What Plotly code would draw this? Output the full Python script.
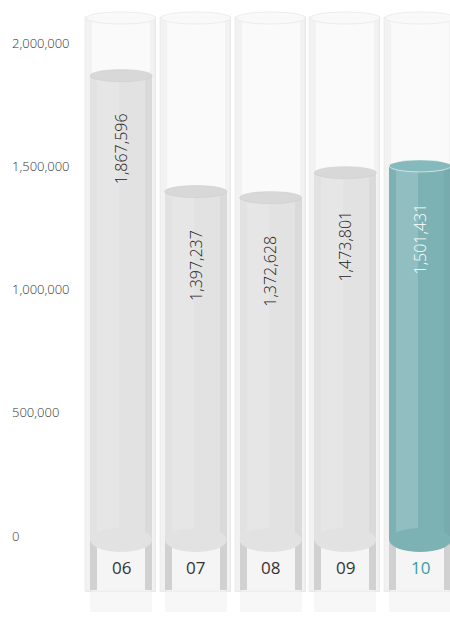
import plotly.graph_objects as go

# ---- data ----
years = ["06", "07", "08", "09", "10"]
values = [1867596, 1397237, 1372628, 1473801, 1501431]
tick_vals = [0, 500000, 1000000, 1500000, 2000000]
tick_text = ["0", "500,000", "1,000,000", "1,500,000", "2,000,000"]

# ---- geometry / style ----
W, H = 450, 626
Y_TOP, Y_BOT = 2174400, -365100
UPP = (Y_TOP - Y_BOT) / H          # data units per pixel
X_RANGE = [-1.62, 4.40]
XPP = (X_RANGE[1] - X_RANGE[0]) / W


def py(p):
    """pixel row -> data y"""
    return Y_TOP - p * UPP


n = len(years)
xs = list(range(n))
hl = n - 1
GRAY = "#e2e2e2"
GRAY_TOP = "#d8d8d8"
TEAL = "#7db2b5"
TEAL_TOP = "#86b9bc"
colors = [TEAL if i == hl else GRAY for i in xs]
top_colors = [TEAL_TOP if i == hl else GRAY_TOP for i in xs]

BAR_W = 62 * XPP
TUBE_W = 70 * XPP
ELL = 6 * UPP

tube_base = py(592)
tube_top = py(18)
cap_base = py(590)
bar_base = py(540)
refl_base = py(612)

fig = go.Figure()
skip = dict(hoverinfo="skip", showlegend=False)

# reflections below the tubes
fig.add_bar(x=xs, y=[cap_base - refl_base] * n, base=[refl_base] * n, width=BAR_W,
            marker=dict(color="rgba(228,228,228,0.30)", line=dict(width=0)), **skip)
# glass tubes
fig.add_bar(x=xs, y=[tube_top - tube_base] * n, base=[tube_base] * n, width=TUBE_W,
            marker=dict(color="rgba(246,246,246,0.55)",
                        line=dict(color="rgba(236,236,236,0.9)", width=1.5)), **skip)
# glass tube side shading
for off in (-TUBE_W / 2, TUBE_W / 2 - 6 * XPP):
    fig.add_bar(x=xs, y=[tube_top - tube_base] * n, base=[tube_base] * n,
                width=6 * XPP, offset=off,
                marker=dict(color="rgba(225,225,225,0.35)", line=dict(width=0)), **skip)
# bottom caps
fig.add_bar(x=xs, y=[bar_base - cap_base] * n, base=[cap_base] * n, width=BAR_W,
            marker=dict(color="#f5f5f5", line=dict(width=0)), **skip)
for off, a in ((-BAR_W / 2, 0.38), (BAR_W / 2 - 7 * XPP, 0.38)):
    fig.add_bar(x=xs, y=[bar_base - cap_base] * n, base=[cap_base] * n,
                width=7 * XPP, offset=off,
                marker=dict(color=f"rgba(150,150,150,{a})", line=dict(width=0)), **skip)
# value bars
fig.add_bar(x=xs, y=[v - bar_base for v in values], base=[bar_base] * n, width=BAR_W,
            marker=dict(color=colors, line=dict(width=0)), **skip)
# highlight strip for the cylinder look
fig.add_bar(x=xs, y=[v - bar_base for v in values], base=[bar_base] * n,
            width=22 * XPP, offset=-24 * XPP,
            marker=dict(color="rgba(255,255,255,0.16)", line=dict(width=0)), **skip)
# darker right edge
fig.add_bar(x=xs, y=[v - bar_base for v in values], base=[bar_base] * n,
            width=7 * XPP, offset=24 * XPP,
            marker=dict(color="rgba(0,0,0,0.035)", line=dict(width=0)), **skip)

shapes = []
for i, v in enumerate(values):
    # bottom rounded edge of the value bar
    shapes.append(dict(type="circle", xref="x", yref="y", layer="above",
                       x0=i - BAR_W / 2, x1=i + BAR_W / 2,
                       y0=bar_base - 2 * ELL, y1=bar_base + 2 * ELL,
                       fillcolor=colors[i], line=dict(width=0)))
    # top ellipse of the value bar
    shapes.append(dict(type="circle", xref="x", yref="y", layer="above",
                       x0=i - BAR_W / 2, x1=i + BAR_W / 2,
                       y0=v - ELL, y1=v + ELL,
                       fillcolor=top_colors[i],
                       line=dict(color="rgba(255,255,255,0.6)" if i == hl else "rgba(205,205,205,0.6)",
                                 width=1)))
    # top rim of glass tube
    shapes.append(dict(type="circle", xref="x", yref="y", layer="above",
                       x0=i - TUBE_W / 2, x1=i + TUBE_W / 2,
                       y0=tube_top - ELL, y1=tube_top + ELL,
                       fillcolor="rgba(249,249,249,0.8)",
                       line=dict(color="rgba(234,234,234,0.9)", width=1)))
fig.update_layout(shapes=shapes)

annotations = []
for i, (yr, v) in enumerate(zip(years, values)):
    annotations.append(dict(x=i, y=v, xref="x", yref="y", text=f"{v:,}",
                            showarrow=False, textangle=-90, yanchor="top", xanchor="center",
                            yshift=-36,
                            font=dict(family="Open Sans", size=16, weight=300,
                                      color="#ffffff" if i == hl else "#222222")))
    annotations.append(dict(x=i, y=py(567), xref="x", yref="y", text=yr,
                            showarrow=False, yanchor="middle", xanchor="center",
                            font=dict(family="Open Sans", size=17, weight=400,
                                      color="#3a9ca3" if i == hl else "#333333")))
fig.update_layout(annotations=annotations)

fig.update_layout(
    width=W, height=H,
    margin=dict(l=0, r=0, t=0, b=0),
    paper_bgcolor="white", plot_bgcolor="white",
    barmode="overlay", bargap=0,
    xaxis=dict(range=X_RANGE, visible=False, fixedrange=True),
    yaxis=dict(range=[Y_BOT, Y_TOP], tickvals=tick_vals, ticktext=tick_text,
               ticklabelposition="inside", ticklabelstandoff=9, ticks="",
               showgrid=False, zeroline=False, showline=False,
               tickfont=dict(family="Open Sans", size=13, weight=300, color="#333333"),
               fixedrange=True),
    showlegend=False,
)

fig.write_html("out.html")
